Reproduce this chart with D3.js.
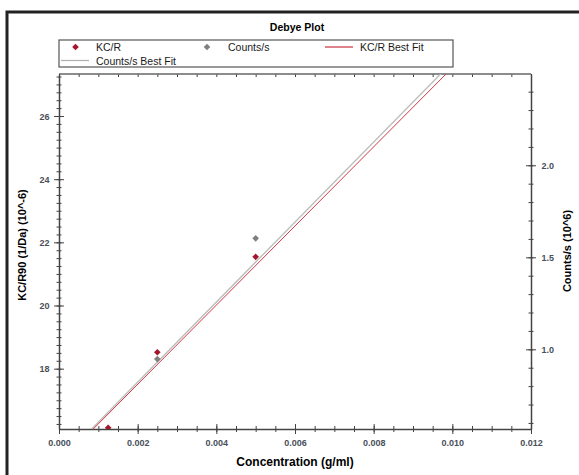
<!DOCTYPE html>
<html>
<head>
<meta charset="utf-8">
<script src="https://cdn.jsdelivr.net/npm/d3@7"></script>
<style>
  body { margin: 0; background: #fff; }
  text { font-family: "Liberation Sans", Arial, sans-serif; }
  .tick text { font-size: 9px; font-weight: bold; fill: #4a4f5a; }
  .domain { stroke: #444; stroke-width: 1.5; }
  .tick line { stroke: #444; }
</style>
</head>
<body>
<div id="chart"></div>
<script>
// Data
var concentration = [0.00125, 0.0025, 0.005];
var kcr = [16.13, 18.52, 21.54];              // KC/R90 (10^-6)
var countsConc = [0.0025, 0.005];
var counts = [0.947, 1.603];                  // Counts/s (10^6)
var kcrFit = [15.0, 1253];                    // intercept, slope
var countsFit = [0.387, 217.4];               // intercept, slope
var xTicks = [0, 0.002, 0.004, 0.006, 0.008, 0.010, 0.012];
var yLeftTicks = [18, 20, 22, 24, 26];
var yRightTicks = [1.0, 1.5, 2.0];
var legendLabels = ["KC/R", "Counts/s", "KC/R Best Fit", "Counts/s Best Fit"];

var w = 579, h = 475;
var pLeft = 59, pRight = 531, pTop = 74, pBottom = 429;

var svg = d3.select("#chart").append("svg")
  .attr("width", w).attr("height", h);

// outer frame (runs off the page right and bottom)
svg.append("rect")
  .attr("x", 7).attr("y", 12)
  .attr("width", 700).attr("height", 600)
  .attr("fill", "none").attr("stroke", "#222").attr("stroke-width", 3);

var x = d3.scaleLinear().domain([0, 0.012]).range([pLeft, pRight]);
var yL = d3.scaleLinear().domain([16.09, 27.33]).range([pBottom, pTop]);
var yR = d3.scaleLinear().domain([0.567, 2.496]).range([pBottom, pTop]);

var diamond = d3.symbol(d3.symbolSquare, 22)();

// title
svg.append("text")
  .attr("x", 297).attr("y", 31)
  .attr("text-anchor", "middle")
  .style("font-size", "10.5px").style("font-weight", "bold")
  .text("Debye Plot");

// legend
var lg = svg.append("g");
lg.append("rect")
  .attr("x", 59).attr("y", 40).attr("width", 394).attr("height", 27)
  .attr("fill", "#fff").attr("stroke", "#555").attr("stroke-width", 1.2);
lg.append("path").attr("d", diamond)
  .attr("transform", "translate(75.5,47) rotate(45)").attr("fill", "#a3162c");
lg.append("path").attr("d", diamond)
  .attr("transform", "translate(207,47) rotate(45)").attr("fill", "#7f7f7f");
lg.append("line").attr("x1", 325).attr("x2", 353).attr("y1", 47).attr("y2", 47)
  .attr("stroke", "#c8303f").attr("stroke-width", 1.2);
lg.append("line").attr("x1", 61).attr("x2", 89).attr("y1", 60.5).attr("y2", 60.5)
  .attr("stroke", "#b0b0b0").attr("stroke-width", 1.2);
var lgPos = [[96, 51], [228, 51], [360, 51], [96, 64.5]];
legendLabels.forEach(function(t, i) {
  lg.append("text")
    .attr("x", lgPos[i][0]).attr("y", lgPos[i][1])
    .style("font-size", "10.5px").attr("fill", "#1a1a1a")
    .text(t);
});

// crossing tick lines
function crossTicks(g, orient, len) {
  g.selectAll(".tick line").each(function() {
    var l = d3.select(this);
    if (orient === "h") l.attr("y1", -len).attr("y2", len);
    else l.attr("x1", -len).attr("x2", len);
  });
}

// x axis minor + major
var xMinor = d3.range(0, 0.01201, 0.0005);
svg.append("g").attr("transform", "translate(0," + pBottom + ")")
  .call(d3.axisBottom(x).tickValues(xMinor).tickFormat(""))
  .call(function(g) { crossTicks(g, "h", 3); g.select(".domain").remove(); });
svg.append("g").attr("transform", "translate(0," + pTop + ")")
  .call(d3.axisBottom(x).tickValues(xMinor).tickFormat("").tickSize(3))
  .call(function(g) { g.select(".domain").remove(); });
svg.append("g").attr("transform", "translate(0," + pBottom + ")")
  .call(d3.axisBottom(x).tickValues(xTicks).tickFormat(d3.format(".3f")).tickSizeOuter(0))
  .call(function(g) {
    crossTicks(g, "h", 5);
    g.selectAll(".tick text").attr("y", 11);
  });
svg.append("line")
  .attr("x1", pLeft).attr("x2", pRight).attr("y1", pTop).attr("y2", pTop)
  .attr("stroke", "#666").attr("stroke-width", 1.5);

// left axis
var yLMinor = d3.range(16.25, 27.4, 0.25);
svg.append("g").attr("transform", "translate(" + pLeft + ",0)")
  .call(d3.axisLeft(yL).tickValues(yLMinor).tickFormat(""))
  .call(function(g) { crossTicks(g, "v", 2.5); g.select(".domain").remove(); });
svg.append("g").attr("transform", "translate(" + pLeft + ",0)")
  .call(d3.axisLeft(yL).tickValues(yLeftTicks).tickFormat(d3.format("d")).tickSizeOuter(0))
  .call(function(g) {
    crossTicks(g, "v", 5);
    g.selectAll(".tick text").attr("x", -9.5).attr("dy", "0.35em");
  });

// right axis
var yRMinor = d3.range(0.6, 2.5, 0.1);
svg.append("g").attr("transform", "translate(" + pRight + ",0)")
  .call(d3.axisRight(yR).tickValues(yRMinor).tickFormat(""))
  .call(function(g) { crossTicks(g, "v", 2.5); g.select(".domain").remove(); });
svg.append("g").attr("transform", "translate(" + pRight + ",0)")
  .call(d3.axisRight(yR).tickValues(yRightTicks).tickFormat(d3.format(".1f")).tickSizeOuter(0))
  .call(function(g) {
    crossTicks(g, "v", 5);
    g.selectAll(".tick text").attr("x", 10.5).attr("dy", "0.35em");
  });

// axis titles
svg.append("text")
  .attr("x", (pLeft + pRight) / 2).attr("y", 466)
  .attr("text-anchor", "middle")
  .style("font-size", "12px").style("font-weight", "bold")
  .text("Concentration (g/ml)");
svg.append("text")
  .attr("transform", "translate(26,245) rotate(-90)")
  .attr("text-anchor", "middle")
  .style("font-size", "11px").style("font-weight", "bold")
  .text("KC/R90 (1/Da) (10^-6)");
svg.append("text")
  .attr("transform", "translate(571,251) rotate(-90)")
  .attr("text-anchor", "middle")
  .style("font-size", "11px").style("font-weight", "bold")
  .text("Counts/s (10^6)");

// clip for data
svg.append("clipPath").attr("id", "plot")
  .append("rect").attr("x", pLeft).attr("y", pTop)
  .attr("width", pRight - pLeft).attr("height", pBottom - pTop);
var plot = svg.append("g").attr("clip-path", "url(#plot)");

// best fit lines
var fitX = [0, 0.012];
plot.append("path")
  .datum(fitX)
  .attr("fill", "none").attr("stroke", "#b8bcb8").attr("stroke-width", 1.3)
  .attr("d", d3.line().x(d => x(d)).y(d => yR(countsFit[0] + countsFit[1] * d)));
plot.append("path")
  .datum(fitX)
  .attr("fill", "none").attr("stroke", "#cf3a48").attr("stroke-width", 1)
  .attr("d", d3.line().x(d => x(d)).y(d => yL(kcrFit[0] + kcrFit[1] * d)));

// points
plot.selectAll(".cnt").data(countsConc).enter().append("path")
  .attr("d", diamond)
  .attr("transform", (d, i) => "translate(" + x(d) + "," + yR(counts[i]) + ") rotate(45)")
  .attr("fill", "#7f7f7f");
plot.selectAll(".kcr").data(concentration).enter().append("path")
  .attr("d", diamond)
  .attr("transform", (d, i) => "translate(" + x(d) + "," + yL(kcr[i]) + ") rotate(45)")
  .attr("fill", "#a3162c");
</script>
</body>
</html>
